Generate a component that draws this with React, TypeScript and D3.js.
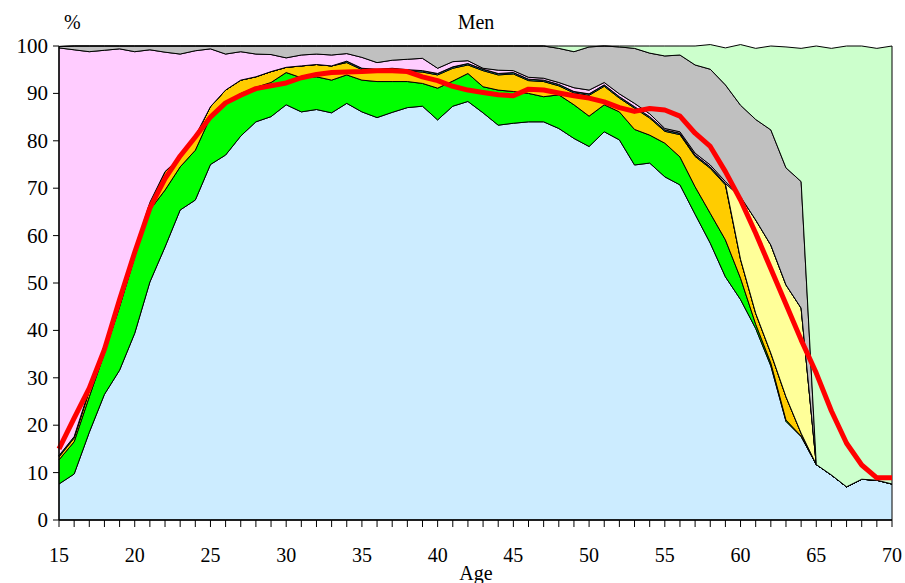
import React from 'react';
import * as d3 from 'd3';

const ages = [15,16,17,18,19,20,21,22,23,24,25,26,27,28,29,30,31,32,33,34,35,36,37,38,39,40,41,42,43,44,45,46,47,48,49,50,51,52,53,54,55,56,57,58,59,60,61,62,63,64,65,66,67,68,69,70];

const employed = [7.6,9.7,18.5,26.5,31.6,39.4,50.2,57.6,65.4,67.5, 75.0,77.0,81.0,84.0,85.1,87.6,86.1,86.6,85.9,87.9, 86.1,84.9,86.0,87.0,87.3,84.4,87.3,88.3,85.9,83.3, 83.7,84.0,84.0,82.6,80.5,78.8,81.9,80.2,74.9,75.3, 72.4,70.7,64.5,58.4,51.3,46.5,40.4,32.5,20.8,17.6, 11.7,9.5,7.0,8.6,8.4,7.6];
const selfEmployed = [5.1,6.8,7.5,8.7,13.4,16.1,15.2,12.0,9.1,10.5, 10.0,11.0,9.0,7.3,7.2,6.8,7.2,6.9,6.9,6.0, 6.7,7.6,6.5,5.5,4.8,6.7,5.3,5.9,5.5,7.4, 6.7,6.0,5.3,7.1,7.1,6.4,5.7,5.9,7.5,5.9, 7.1,5.9,5.8,6.3,7.8,4.5,0.9,0.6,0.3,0.1, 0,0,0,0,0,0];
const unemployed = [0.6,0.8,1.2,1.3,2.0,1.5,1.6,3.9,2.0,3.0, 2.2,2.7,2.8,2.2,2.3,1.1,2.5,2.6,3.0,2.6, 2.2,2.3,2.5,2.2,2.4,2.8,2.7,1.8,3.4,3.2, 3.7,2.7,3.2,1.9,2.5,4.4,3.9,2.9,4.5,3.6, 2.5,4.7,6.4,9.5,11.6,4.0,2.3,2.1,4.9,0.6, 0,0,0,0,0,0];
const otherActive = [0.3,0.3,0.3,0,0,0,0,0,0,0, 0,0,0,0,0,0,0,0,0,0.3, 0.3,0.3,0.3,0.3,0.3,0.3,0.3,0.3,0.3,0.3, 0.3,0.3,0.3,0.3,0.3,0.3,0.3,0.3,0.3,0.3, 0.3,0.3,0.3,0.3,0.3,0,0,0,0,0, 0,0,0,0,0,0];
const earlyRetired = [0,0,0,0,0,0,0,0,0,0, 0,0,0,0,0,0,0,0,0,0, 0,0,0,0,0,0,0,0,0,0, 0,0,0,0,0,0,0,0,0,0, 0,0,0,0,0,13.2,19.7,22.8,23.6,26.4, 0,0,0,0,0,0];
const students = [86.0,81.6,71.3,62.6,52.4,41.8,32.2,25.2,21.8,18.0, 12.2,7.6,6.0,4.8,3.6,2.0,2.3,2.2,2.3,1.6, 2.3,1.4,1.7,2.2,2.6,1.1,1.1,0.6,0.2,0.7, 0.4,0.4,0.4,0.4,0.8,0.8,0.5,0.6,0.7,0.6, 0.3,0.3,0.4,0.4,0.4,0,0,0,0,0, 0,0,0,0,0,0];
const inactive = [0.3,0.8,1.2,0.9,0.6,1.2,0.8,1.3,1.7,1.0, 0.6,1.7,1.2,1.7,1.8,2.5,1.9,1.7,1.9,1.6, 2.4,3.5,3.0,2.8,2.6,4.7,3.3,3.1,4.7,5.1, 5.2,6.6,6.8,7.2,7.6,9.1,7.7,9.9,11.6,12.8, 15.3,16.2,18.6,20.2,20.4,19.3,21.2,24.3,24.7,26.7, 0,0,0,0,0,0];
const retired = [0,0,0,0,0,0,0,0,0,0, 0,0,0,0,0,0,0,0,0,0, 0,0,0,0,0,0,0,0,0,0, 0,0,0,0.5,1.2,0.2,0,0.2,0.5,1.5, 2.1,1.9,4.0,5.2,7.8,12.8,15.0,17.7,25.5,28.1, 88.3,90.0,93.0,91.4,91.1,92.4];
const participation = [15,21.5,27.8,36,46.5,56.5,65.8,72,76.8,80.8, 85,88,89.6,91,91.6,92.2,93.3,94,94.4,94.5, 94.6,94.8,94.8,94.6,93.5,92.7,91.5,90.7,90.2,89.7, 89.5,90.9,90.7,90.1,89.5,89,88.2,87,86.2,86.8, 86.5,85.2,81.6,78.8,73.5,67.5,60.5,53,45.5,38, 31,23,16.2,11.6,8.9,8.9];

const yTickLabels = [0,10,20,30,40,50,60,70,80,90,100];
const xTickLabels = [15,20,25,30,35,40,45,50,55,60,65,70];

const seriesKeys = ['employed','selfEmployed','unemployed','otherActive','earlyRetired','students','inactive','retired'];
const seriesData: Record<string, number[]> = { employed, selfEmployed, unemployed, otherActive, earlyRetired, students, inactive, retired };
const seriesColors: Record<string, string> = {
  employed: '#CCECFF',
  selfEmployed: '#00FF00',
  unemployed: '#FFCC00',
  otherActive: '#33CCCC',
  earlyRetired: '#FFFF99',
  students: '#FFCCFF',
  inactive: '#C0C0C0',
  retired: '#CCFFCC',
};

const FONT = '"Liberation Serif", "Times New Roman", serif';

export default function App() {
  const W = 905, H = 583;
  const x = d3.scaleLinear().domain([15, 70]).range([59, 892]);
  const y = d3.scaleLinear().domain([0, 100]).range([520, 46]);

  const rows = ages.map((a, i) => {
    const r: any = { age: a };
    seriesKeys.forEach(k => { r[k] = seriesData[k][i]; });
    return r;
  });
  const stacked = d3.stack<any>().keys(seriesKeys)(rows);
  const area = d3.area<any>()
    .x((d: any) => x(d.data.age))
    .y0((d: any) => y(d[0]))
    .y1((d: any) => y(d[1]));
  const line = d3.line<number>()
    .x((_d, i) => x(ages[i]))
    .y(d => y(d));

  return (
    <svg width={W} height={H} style={{ position: 'absolute', left: 0, top: 0, background: '#fff' }} fontFamily={FONT}>
      {stacked.map(s => (
        <path key={s.key} d={area(s as any) || ''} fill={seriesColors[s.key]} stroke="#000" strokeWidth={1} strokeLinejoin="round" />
      ))}
      <path d={line(participation) || ''} fill="none" stroke="#FF0000" strokeWidth={5} strokeLinejoin="round" strokeLinecap="butt" />
      <line x1={x(15)} x2={x(15)} y1={y(100)} y2={y(0)} stroke="#000" strokeWidth={1.3} />
      <line x1={x(15)} x2={x(70)} y1={y(0)} y2={y(0)} stroke="#000" strokeWidth={1.3} />
      {yTickLabels.map(t => (
        <g key={'y' + t}>
          <line x1={x(15) - 6} x2={x(15)} y1={y(t)} y2={y(t)} stroke="#000" strokeWidth={1} />
          <text x={x(15) - 11} y={y(t) + 7} textAnchor="end" fontSize={21} fill="#000">{t}</text>
        </g>
      ))}
      {ages.map(a => (
        <line key={'xt' + a} x1={x(a)} x2={x(a)} y1={y(0)} y2={y(0) + 7} stroke="#000" strokeWidth={1} />
      ))}
      {xTickLabels.map(t => (
        <text key={'xl' + t} x={x(t)} y={562} textAnchor="middle" fontSize={20} fill="#000">{t}</text>
      ))}
      <text x={476} y={580} textAnchor="middle" fontSize={20} fill="#000">Age</text>
      <text x={476} y={29} textAnchor="middle" fontSize={20} fill="#000">Men</text>
      <text x={64} y={29} textAnchor="start" fontSize={20} fill="#000">%</text>
    </svg>
  );
}
